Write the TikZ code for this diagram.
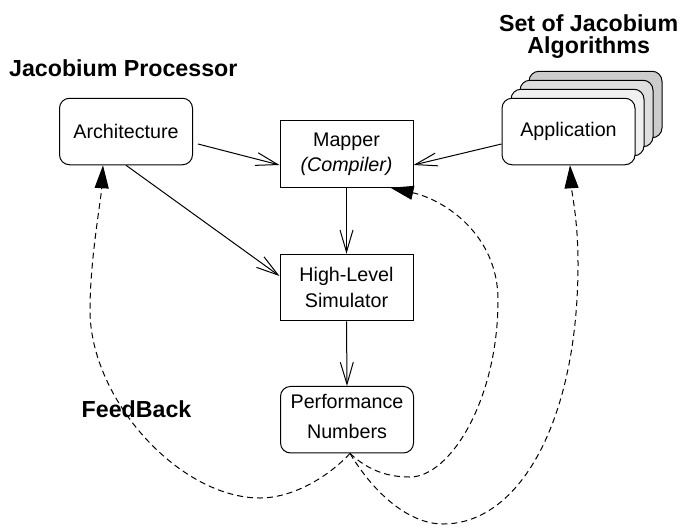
\documentclass[tikz,border=0pt]{standalone}
\usepackage{fontspec}
\setmainfont{Liberation Sans}
\usetikzlibrary{arrows.meta}
\begin{document}
\begin{tikzpicture}[x=1pt,y=-1pt,
  box/.style={draw,line width=1pt,inner sep=0pt,minimum width=133pt,minimum height=66.5pt,align=center},
  rbox/.style={box,rounded corners=10pt},
  lbl/.style={font=\fontsize{19.7}{25}\selectfont},
  title/.style={inner sep=0pt,font=\fontsize{23.2}{21.6}\selectfont\bfseries,align=center},
  flow/.style={line width=1pt,-{Straight Barb[length=22pt,width=13pt,line width=1pt]}},
  fb/.style={line width=1pt,dash pattern=on 6pt off 4pt,-{Triangle[length=23pt,width=14pt]}}]
\useasboundingbox (0,0) rectangle (682,528);
% titles
\node[title,anchor=base west] (t1) at (9,76.7) {Jacobium Processor};
\node[title,anchor=center] (t2) at (588.7,36.5) {Set of Jacobium\\Algorithms};
\node[title,anchor=base west] (t3) at (81.5,417.7) {FeedBack};
% application stack
\node[rbox,fill=black!20] (app3) at (595.5,104.5) {};
\node[rbox,fill=black!13] (app2) at (586.5,113.5) {};
\node[rbox,fill=black!6] (app1) at (577.5,122.5) {};
\node[rbox,fill=white,lbl] (app) at (568.5,131.5) {Application};
% boxes
\node[rbox,lbl] (arch) at (126,131.5) {Architecture};
\node[box,lbl] (mapper) at (346.5,154) {Mapper\\\itshape(Compiler)};
\node[box,lbl,font=\fontsize{19.7}{26}\selectfont] (sim) at (346.5,287.5) {High-Level\\Simulator};
\node[rbox,lbl,font=\fontsize{19.7}{30}\selectfont] (perf) at (347,419.7) {Performance\\Numbers\rule[-6pt]{0pt}{6pt}};
% solid connectors
\draw[flow] ([xshift=5pt,yshift=-12.5pt]arch.east) -- ([yshift=-11pt]mapper.west);
\draw[flow] ([yshift=-12.5pt]app.west) -- ([yshift=-11pt]mapper.east);
\draw[flow] (mapper.south) -- (sim.north);
\draw[flow] (arch.south) -- ([yshift=11.5pt]sim.west);
\draw[flow] (sim.south) -- (perf.north);
% feedback connectors
\draw[fb] ([xshift=3pt]perf.south) .. controls (325,480) and (290,498) .. (260,498)
  .. controls (180,498) and (90,400) .. (90,310)
  .. controls (90,260) and (101,200) .. ([xshift=-23pt]arch.south);
\draw[fb] ([xshift=3pt]perf.south) .. controls (370,472) and (390,477) .. (410,477)
  .. controls (450,477) and (498,400) .. (498,300)
  .. controls (498,235) and (445,200) .. ([xshift=-23pt]mapper.south east);
\draw[fb] ([xshift=3pt]perf.south) .. controls (375,495) and (410,524) .. (443,524)
  .. controls (520,524) and (578,420) .. (578,264)
  .. controls (578,220) and (572,195) .. ([xshift=1.5pt]app.south);
\end{tikzpicture}
\end{document}
